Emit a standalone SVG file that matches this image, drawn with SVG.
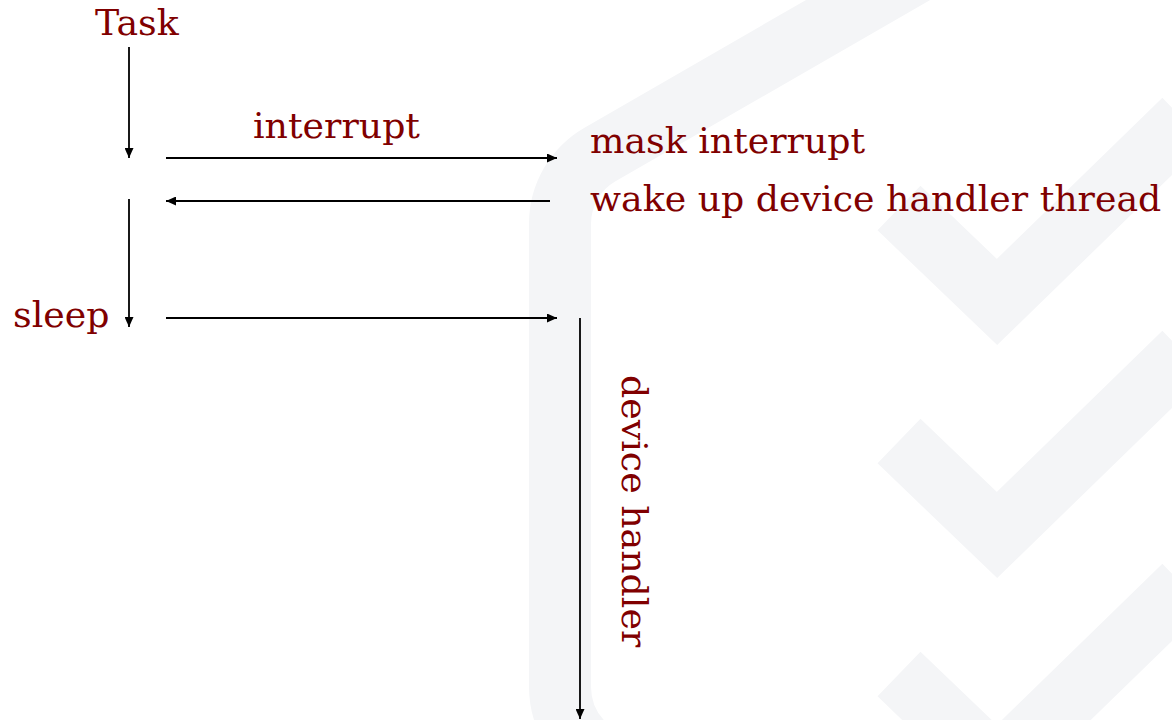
<svg xmlns="http://www.w3.org/2000/svg" width="1172" height="720" viewBox="0 0 1172 720">
<style>
.lbl{font-family:"DejaVu Serif","Liberation Serif",serif;font-size:36.3px;fill:#800000}
.wm{fill:none;stroke:#f4f5f7;stroke-width:62}
.conn line{stroke:#000;stroke-width:1.8}
</style>
<defs>
<marker id="ah" markerUnits="userSpaceOnUse" markerWidth="11" markerHeight="9" refX="10" refY="4.5" orient="auto">
<path d="M0,0 L10,4.5 L0,9 Z" fill="#000"/>
</marker>
</defs>
<rect width="1172" height="720" fill="#fff"/>
<g id="watermark">
<path class="wm" d="M700 767 L640 767 A80 80 0 0 1 560 687 L560 223.5 A80 80 0 0 1 600 154.5 L1000 -76" stroke-width="60"/>
<polyline class="wm" points="899,208 997,302 1184,120" stroke-linejoin="miter"/>
<polyline class="wm" points="899,441 997,535 1184,353" stroke-linejoin="miter"/>
<polyline class="wm" points="899,674 997,768 1184,586" stroke-linejoin="miter"/>
</g>
<g class="conn" id="connectors">
<line x1="129" y1="47" x2="129" y2="158" marker-end="url(#ah)"/>
<line x1="129" y1="199" x2="129" y2="327" marker-end="url(#ah)"/>
<line x1="166" y1="158" x2="557" y2="158" marker-end="url(#ah)"/>
<line x1="550" y1="201" x2="166" y2="201" marker-end="url(#ah)"/>
<line x1="166" y1="318" x2="557" y2="318" marker-end="url(#ah)"/>
<line x1="580" y1="318" x2="580" y2="719" marker-end="url(#ah)"/>
</g>
<g id="task"><text class="lbl" x="95" y="35">Task</text></g>
<g id="interrupt"><text class="lbl" x="253" y="138">interrupt</text></g>
<g id="mask"><text class="lbl" x="590" y="153">mask interrupt</text></g>
<g id="wake"><text class="lbl" x="590" y="211">wake up device handler thread</text></g>
<g id="sleep"><text class="lbl" x="13" y="327">sleep</text></g>
<g id="device-handler"><text class="lbl" transform="translate(622,375) rotate(90)">device handler</text></g>
</svg>
